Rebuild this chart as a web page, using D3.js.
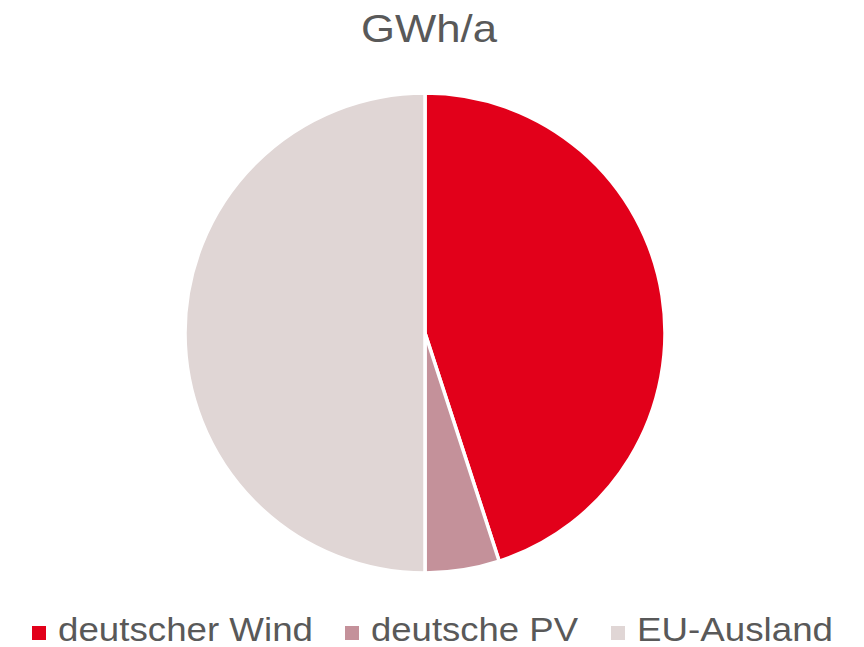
<!DOCTYPE html>
<html>
<head>
<meta charset="utf-8">
<script src="https://cdn.jsdelivr.net/npm/d3@7.9.0/dist/d3.min.js"></script>
<style>
  body { margin: 0; background: #fff; }
  text { font-family: "Liberation Sans", Arial, sans-serif; fill: #595959; }
</style>
</head>
<body>
<div id="chart"></div>
<script>
const width = 864;
const height = 647;

// Data
const categories = ["deutscher Wind", "deutsche PV", "EU-Ausland"];
const values = [45, 5, 50];
const colors = ["#E2001A", "#C4919A", "#E0D6D5"];
const title = "GWh/a";

const cx = 425;
const cy = 333;
const radius = 240;

const svg = d3
  .select("#chart")
  .append("svg")
  .attr("width", width)
  .attr("height", height);

svg
  .append("text")
  .attr("x", 361)
  .attr("y", 42)
  .attr("font-size", "39px")
  .attr("textLength", 136)
  .attr("lengthAdjust", "spacingAndGlyphs")
  .text(title);

const pie = d3.pie().sort(null).value((d) => d);
const arc = d3.arc().innerRadius(0).outerRadius(radius);

const color = d3.scaleOrdinal().domain(categories).range(colors);

svg
  .append("g")
  .attr("transform", `translate(${cx},${cy})`)
  .selectAll("path")
  .data(pie(values))
  .enter()
  .append("path")
  .attr("d", arc)
  .attr("fill", (d, i) => color(categories[i]))
  .attr("stroke", "#fff")
  .attr("stroke-width", 3.5)
  .attr("stroke-linejoin", "round");

// Legend
const legendX = [32, 345, 611];
const legendLen = [255, 207, 196];
const legend = svg
  .append("g")
  .selectAll("g")
  .data(categories)
  .enter()
  .append("g")
  .attr("transform", (d, i) => `translate(${legendX[i]},0)`);

legend
  .append("rect")
  .attr("x", 0)
  .attr("y", 626)
  .attr("width", 14)
  .attr("height", 14)
  .attr("fill", (d) => color(d));

legend
  .append("text")
  .attr("x", 26)
  .attr("y", 641)
  .attr("font-size", "34px")
  .attr("textLength", (d, i) => legendLen[i])
  .attr("lengthAdjust", "spacingAndGlyphs")
  .text((d) => d);
</script>
</body>
</html>
